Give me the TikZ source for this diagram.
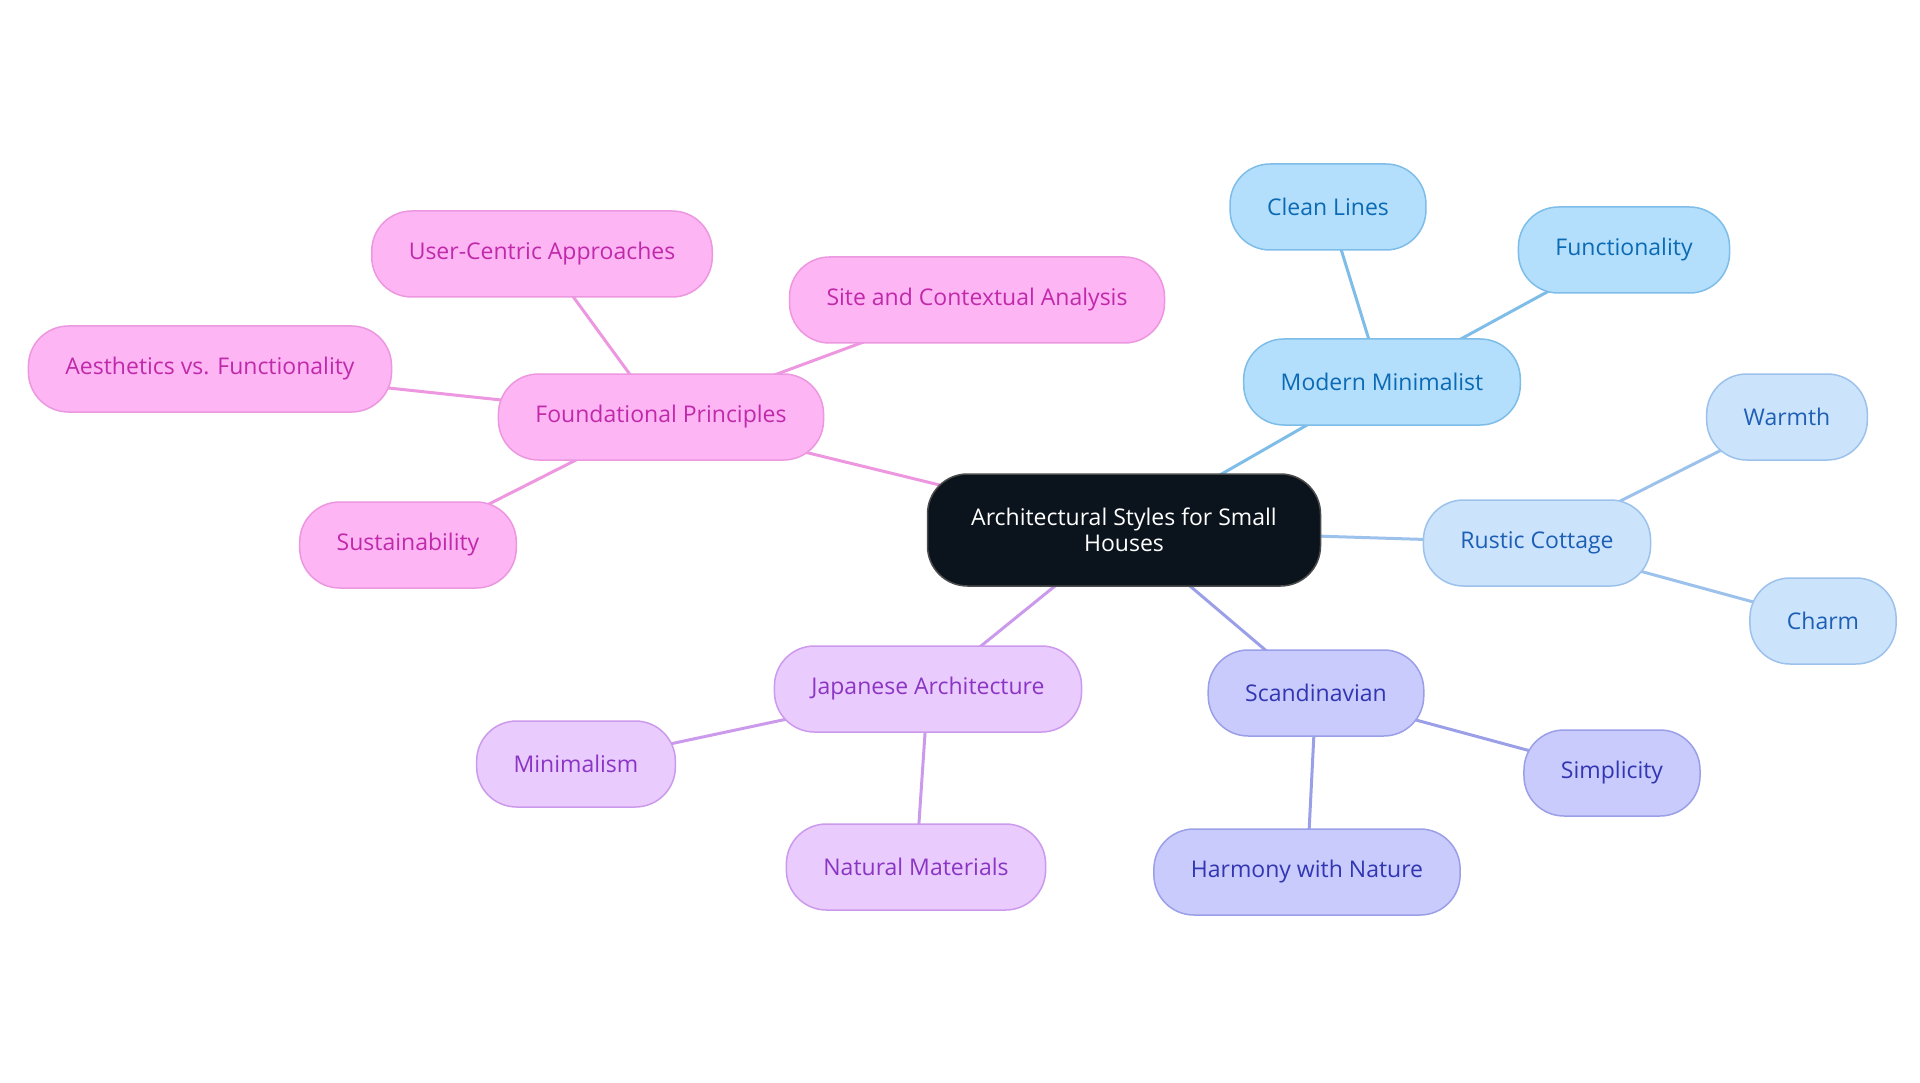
\documentclass[tikz,border=0pt]{standalone}
\usepackage{fontspec}
\setmainfont{Open Sans}
\usetikzlibrary{positioning,backgrounds}

\definecolor{rootfill}{HTML}{0B131C}
\definecolor{bluefill}{HTML}{B3DFFC}
\definecolor{blueline}{HTML}{7DBDE8}
\definecolor{bluetext}{HTML}{0B6AB3}
\definecolor{skyfill}{HTML}{CCE3FC}
\definecolor{skyline}{HTML}{9CC2EC}
\definecolor{skytext}{HTML}{1D5FB5}
\definecolor{indfill}{HTML}{C8CBFC}
\definecolor{indline}{HTML}{9A9FE8}
\definecolor{indtext}{HTML}{3236B0}
\definecolor{lilfill}{HTML}{EACBFD}
\definecolor{lilline}{HTML}{CC9AEC}
\definecolor{liltext}{HTML}{8A35C4}
\definecolor{pinkfill}{HTML}{FDB5F4}
\definecolor{pinkline}{HTML}{EC97DF}
\definecolor{pinktext}{HTML}{C02AAA}

\tikzset{
  pill/.style={draw, line width=1.5pt, rounded corners=40pt, minimum height=86pt,
    inner xsep=37pt, font=\fontsize{23}{26}\selectfont},
  blue/.style={pill, fill=bluefill, draw=blueline, text=bluetext},
  sky/.style={pill, fill=skyfill, draw=skyline, text=skytext},
  ind/.style={pill, fill=indfill, draw=indline, text=indtext},
  lil/.style={pill, fill=lilfill, draw=lilline, text=liltext},
  pink/.style={pill, fill=pinkfill, draw=pinkline, text=pinktext},
  link/.style={line width=3pt}
}

\begin{document}
\begin{tikzpicture}[x=1pt,y=-1pt]
\useasboundingbox (0,0) rectangle (1920,1083);

\node[draw=black!70, line width=1.5pt, fill=rootfill, text=white, rounded corners=40pt,
  minimum width=393pt, minimum height=112pt, align=center,
  font=\fontsize{23}{26}\selectfont] (root) at (1124,530) {Architectural Styles for Small\\Houses};

\node[blue] (modern) at (1382,382) {Modern Minimalist};
\node[blue] (clean) at (1328,207) {Clean Lines};
\node[blue] (func) at (1624,250) {Functionality};

\node[sky] (rustic) at (1537,543) {Rustic Cottage};
\node[sky] (warmth) at (1787,417) {Warmth};
\node[sky] (charm) at (1823,621) {Charm};

\node[ind] (scand) at (1316,693) {Scandinavian};
\node[ind] (simple) at (1612,773) {Simplicity};
\node[ind] (harmony) at (1307,872) {Harmony with Nature};

\node[lil] (japan) at (928,689) {Japanese Architecture};
\node[lil] (minim) at (576,764) {Minimalism};
\node[lil] (natural) at (916,867) {Natural Materials};

\node[pink] (found) at (661,417) {Foundational Principles};
\node[pink] (user) at (542,254) {User-Centric Approaches};
\node[pink] (site) at (977,300) {Site and Contextual Analysis};
\node[pink] (aest) at (210,369) {Aesthetics vs. Functionality};
\node[pink] (sust) at (408,545) {Sustainability};

% links go behind the boxes
\begin{scope}[on background layer]
\draw[link, blueline] (root.center)--(modern.center);
\draw[link, blueline] (modern.center)--(clean.center);
\draw[link, blueline] (modern.center)--(func.center);
\draw[link, skyline] (root.center)--(rustic.center);
\draw[link, skyline] (rustic.center)--(warmth.center);
\draw[link, skyline] (rustic.center)--(charm.center);
\draw[link, indline] (root.center)--(scand.center);
\draw[link, indline] (scand.center)--(simple.center);
\draw[link, indline] (scand.center)--(harmony.center);
\draw[link, lilline] (root.center)--(japan.center);
\draw[link, lilline] (japan.center)--(minim.center);
\draw[link, lilline] (japan.center)--(natural.center);
\draw[link, pinkline] (root.center)--(found.center);
\draw[link, pinkline] (found.center)--(user.center);
\draw[link, pinkline] (found.center)--(site.center);
\draw[link, pinkline] (found.center)--(aest.center);
\draw[link, pinkline] (found.center)--(sust.center);
\end{scope}

\end{tikzpicture}
\end{document}
